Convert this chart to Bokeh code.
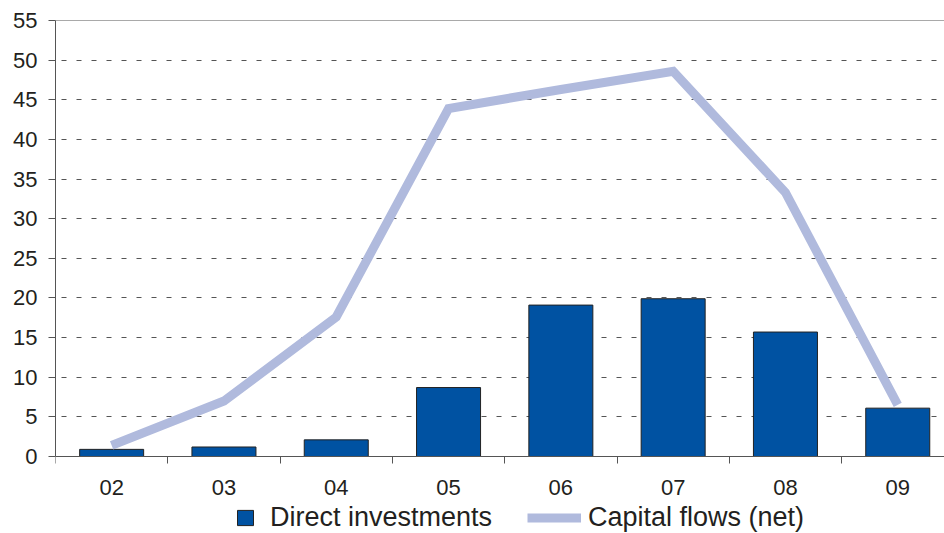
from bokeh.plotting import figure
from bokeh.models import Range1d, FixedTicker, Span, Legend, LegendItem, ColumnDataSource
from bokeh.embed import file_html
from bokeh.resources import INLINE

years = ["02", "03", "04", "05", "06", "07", "08", "09"]
direct_investments = [0.9, 1.2, 2.1, 8.7, 19.1, 19.9, 15.7, 6.1]
capital_flows = [1.4, 7.0, 17.6, 43.9, 46.3, 48.6, 33.3, 6.5]
y_ticks = [0, 5, 10, 15, 20, 25, 30, 35, 40, 45, 50, 55]

xs = [i + 0.5 for i in range(len(years))]
src = ColumnDataSource(dict(x=xs, di=direct_investments, cf=capital_flows))

FONT = "Liberation Sans"
TXT = "#231f20"
AX = "#555555"

# frame spans from the top line (55) down to the bottom of the picture,
# so that the x axis sits at y = 0 inside it and the legend can live below
px_per_unit = 436 / 55.0
y_bottom = -77 / px_per_unit

p = figure(width=944, height=533, output_backend="svg", toolbar_location=None,
           x_range=Range1d(0, 889 / 112.3), y_range=Range1d(y_bottom, 55),
           min_border_left=55, min_border_right=0, min_border_top=20, min_border_bottom=0)
p.outline_line_color = None
p.background_fill_color = "white"

bars = p.vbar(x="x", top="di", width=0.57, bottom=0, source=src,
              fill_color="#0052a2", line_color="#222222", line_width=1)
line = p.line(x="x", y="cf", source=src, line_color="#b0badd", line_width=9,
              line_join="miter", line_cap="butt")

p.add_layout(Span(location=55, dimension="width", line_color=AX, line_width=1))

# x axis, fixed at y = 0
p.xaxis.fixed_location = 0
p.xaxis.ticker = FixedTicker(ticks=xs, minor_ticks=list(range(len(years))))
p.xaxis.major_label_overrides = {x: y for x, y in zip(xs, years)}
p.xaxis.major_tick_line_color = None
p.xaxis.major_tick_out = 0
p.xaxis.minor_tick_out = 7
p.xaxis.minor_tick_in = 0
p.xaxis.minor_tick_line_color = AX
p.xaxis.axis_line_color = AX
p.xaxis.major_label_standoff = 16
p.xaxis.major_label_text_font = FONT
p.xaxis.major_label_text_font_size = "22px"
p.xaxis.major_label_text_color = TXT

# y axis
p.yaxis.ticker = FixedTicker(ticks=y_ticks)
p.yaxis.bounds = (0, 55)
p.yaxis.major_tick_out = 7
p.yaxis.major_tick_in = 0
p.yaxis.minor_tick_line_color = None
p.yaxis.major_tick_line_color = AX
p.yaxis.axis_line_color = AX
p.yaxis.major_label_standoff = 11
p.yaxis.major_label_text_font = FONT
p.yaxis.major_label_text_font_size = "22px"
p.yaxis.major_label_text_color = TXT

p.xgrid.grid_line_color = None
p.ygrid.grid_line_color = AX
p.ygrid.grid_line_dash = "5 10"
p.ygrid.grid_line_dash_offset = 9
p.ygrid.grid_line_width = 1


def mk_legend(item, loc, gw, gh, standoff):
    return Legend(items=[item], location=loc, orientation="horizontal",
                  glyph_width=gw, glyph_height=gh, label_standoff=standoff,
                  label_text_font=FONT, label_text_font_size="27px", label_text_color=TXT,
                  border_line_color=None, background_fill_alpha=0, padding=0, margin=0,
                  spacing=0)


lg1 = mk_legend(LegendItem(label="Direct investments", renderers=[bars]), (180, 0), 20, 19, 15)
lg2 = mk_legend(LegendItem(label="Capital flows (net)", renderers=[line]), (472, 0), 54, 19, 7)
p.add_layout(lg1, "center")
p.add_layout(lg2, "center")

open("out.html", "w").write(file_html(p, INLINE))
